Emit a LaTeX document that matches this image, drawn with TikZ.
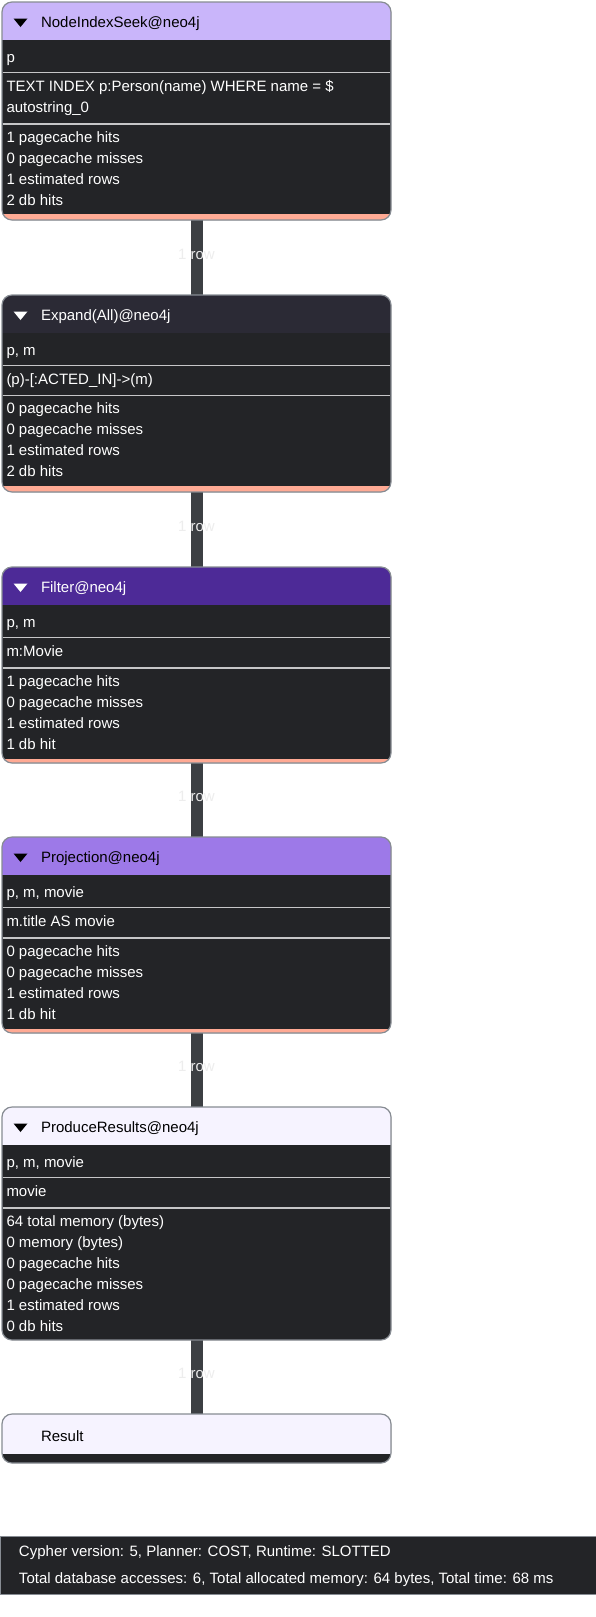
\documentclass[tikz,border=0pt]{standalone}
\usepackage{fontspec}
\setmainfont{Liberation Sans}
\usetikzlibrary{calc}
\definecolor{bodydark}{HTML}{232427}
\definecolor{bordergray}{HTML}{878C93}
\definecolor{sepgray}{HTML}{C6C6C8}
\definecolor{opsalmon}{HTML}{FFAA94}
\definecolor{hdrA}{HTML}{C9B5FA}
\definecolor{hdrB}{HTML}{2B2A35}
\definecolor{hdrC}{HTML}{4D2A97}
\definecolor{hdrD}{HTML}{9D79E8}
\definecolor{hdrE}{HTML}{F6F3FF}
\definecolor{connc}{HTML}{3C3F43}
\definecolor{rowtxt}{HTML}{EDEDED}
\pgfdeclarelayer{background}
\pgfsetlayers{background,main}
\tikzset{
  txt/.style={inner sep=0pt, outer sep=0pt, text=white, font=\fontsize{15}{21}\selectfont},
  opframe/.style={fill=bodydark, rounded corners=10pt, minimum width=389pt, inner sep=0pt, outer sep=0pt, anchor=north west},
  opborder/.style={draw=bordergray, line width=1.2pt, rounded corners=10pt},
  sepline/.style={draw=sepgray, line width=1.5pt},
  conn/.style={draw=connc, line width=12pt},
  rowlbl/.style={txt, text=rowtxt, yshift=3.5pt},
}
% name, top, height, header colour, salmon height
\newcommand\drawop[5]{%
  \node[opframe, minimum height=#3pt] (#1) at (2,#2) {};
  \begin{scope}
    \clip[rounded corners=10pt] (#1.north west) rectangle (#1.south east);
    \fill[#4] (#1.north west) rectangle ([yshift=-38pt]#1.north east);
    \ifdim #5pt>0pt
      \fill[opsalmon] ([yshift=#5pt]#1.south west) rectangle (#1.south east);
    \fi
  \end{scope}
  \draw[opborder] (#1.north west) rectangle (#1.south east);
}
% name, top, text colour, title
\newcommand\ophead[4]{%
  \fill[#3] (13.5,{#2+16.5}) -- (27.5,{#2+16.5}) -- (20.5,{#2+25}) -- cycle;
  \node[txt, text=#3, anchor=base west] (#1-title) at (41,{#2+25}) {#4};
}
% name, first baseline, lines
\newcommand\oplines[3]{%
  \foreach \t [count=\i from 0] in {#3} {
    \node[txt, anchor=base west] (#1-\i) at (6.5,{#2+21*\i}) {\t};
  }
}
\newcommand\opsep[1]{\draw[sepline] (2.7,#1) -- (390.3,#1);}
% from, to, label name
\newcommand\opconn[3]{%
  \begin{pgfonlayer}{background}
    \draw[conn] (#1.south) -- (#2.north);
  \end{pgfonlayer}
  \node[rowlbl] (#3) at ($(#1.south)!0.5!(#2.north)$) {1 row};
}
\begin{document}
\begin{tikzpicture}[x=1pt,y=-1pt]
\begin{pgfonlayer}{background}
\fill[white] (0,0) rectangle (595,1617);
\end{pgfonlayer}
\useasboundingbox (0,0) rectangle (595,1617);

% Box 1
\drawop{b1}{2}{218}{hdrA}{6}
\ophead{b1}{2}{black}{NodeIndexSeek@neo4j}
\node[txt, anchor=base west] (b1-id) at (6.5,62) {p};
\opsep{72.5}
\node[txt, anchor=base west] (b1-d1) at (6.5,91.5) {TEXT INDEX p:Person(name) WHERE name = \$};
\node[txt, anchor=base west] (b1-d2) at (6.5,112.5) {autostring\_0};
\opsep{124}
\oplines{b1s}{142}{1 pagecache hits,0 pagecache misses,1 estimated rows,2 db hits}

% Box 2
\drawop{b2}{295}{197}{hdrB}{6}
\ophead{b2}{295}{white}{Expand(All)@neo4j}
\node[txt, anchor=base west] (b2-id) at (6.5,355) {p, m};
\opsep{365.5}
\node[txt, anchor=base west] (b2-d1) at (6.5,384) {(p)-[:ACTED\_IN]->(m)};
\opsep{395.5}
\oplines{b2s}{413}{0 pagecache hits,0 pagecache misses,1 estimated rows,2 db hits}

% Box 3
\drawop{b3}{567}{196}{hdrC}{4}
\ophead{b3}{567}{white}{Filter@neo4j}
\node[txt, anchor=base west] (b3-id) at (6.5,627) {p, m};
\opsep{637.5}
\node[txt, anchor=base west] (b3-d1) at (6.5,656.5) {m:Movie};
\opsep{668}
\oplines{b3s}{686}{1 pagecache hits,0 pagecache misses,1 estimated rows,1 db hit}

% Box 4
\drawop{b4}{837}{196}{hdrD}{4}
\ophead{b4}{837}{black}{Projection@neo4j}
\node[txt, anchor=base west] (b4-id) at (6.5,897) {p, m, movie};
\opsep{907.5}
\node[txt, anchor=base west] (b4-d1) at (6.5,926.5) {m.title AS movie};
\opsep{938}
\oplines{b4s}{956}{0 pagecache hits,0 pagecache misses,1 estimated rows,1 db hit}

% Box 5
\drawop{b5}{1107}{233}{hdrE}{0}
\ophead{b5}{1107}{black}{ProduceResults@neo4j}
\node[txt, anchor=base west] (b5-id) at (6.5,1167) {p, m, movie};
\opsep{1177.5}
\node[txt, anchor=base west] (b5-d1) at (6.5,1196.5) {movie};
\opsep{1208}
\oplines{b5s}{1226}{64 total memory (bytes),0 memory (bytes),0 pagecache hits,0 pagecache misses,1 estimated rows,0 db hits}

% Result
\node[opframe, minimum height=49pt] (res) at (2,1414) {};
\begin{scope}
  \clip[rounded corners=10pt] (res.north west) rectangle (res.south east);
  \fill[hdrE] (res.north west) rectangle ([yshift=-40pt]res.north east);
\end{scope}
\draw[opborder] (res.north west) rectangle (res.south east);
\node[txt, text=black, anchor=base west] (res-title) at (41,1441.5) {Result};

% connectors with row labels
\opconn{b1}{b2}{l1}
\opconn{b2}{b3}{l2}
\opconn{b3}{b4}{l3}
\opconn{b4}{b5}{l4}
\opconn{b5}{res}{l5}

% footer
\fill[bodydark] (0,1536) rectangle (600,1595);
\draw[bordergray, line width=1.2pt] (600,1536.6) -- (0.6,1536.6) -- (0.6,1594.4) -- (600,1594.4);
\node[txt, anchor=base west] (f1) at (19,1556) {Cypher version: 5, Planner: COST, Runtime: SLOTTED};
\node[txt, anchor=base west] (f2) at (19,1583) {Total database accesses: 6, Total allocated memory: 64 bytes, Total time: 68 ms};
\end{tikzpicture}
\end{document}
